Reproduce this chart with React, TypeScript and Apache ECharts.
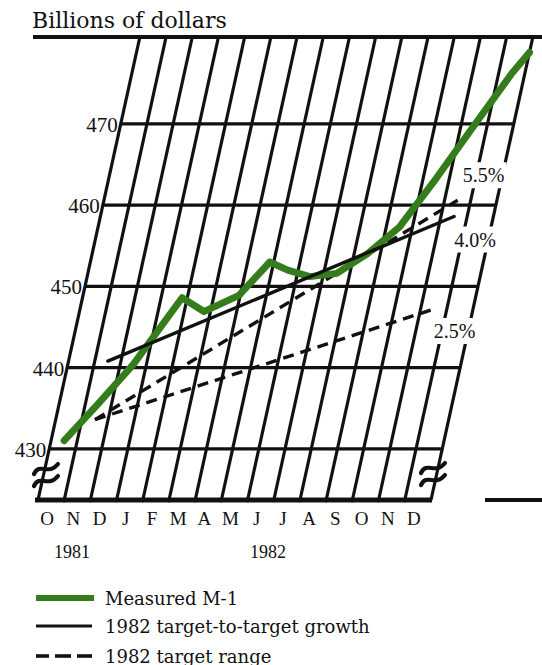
import React, { useEffect, useRef } from 'react';
import * as echarts from 'echarts';

// ---- data ----
const months = ['O', 'N', 'D', 'J', 'F', 'M', 'A', 'M', 'J', 'J', 'A', 'S', 'O', 'N', 'D'];
const years = ['1981', '1982'];
const yTicks = [430, 440, 450, 460, 470];
const slantLines = [0, 1, 2, 3, 4, 5, 6, 7, 8, 9, 10, 11, 12, 13, 14, 15];
const m1Pos = [0.5, 1.5, 2.5, 3.8, 4.75, 5.95, 6.85, 7.6, 8.5, 9.5, 10.5, 11.5, 12.5, 13.5, 14.5, 15];
const m1Values = [431.0, 435.6, 440.4, 448.6, 446.9, 448.9, 453.0, 452.0, 451.2, 451.6, 454.0, 457.3, 463.3, 469.8, 476.2, 478.8];
const targetPos = [1.5, 13.5];
const growthValues = [440.8, 458.6];
const rangeHighValues = [433.6, 460.6];
const rangeLowValues = [433.6, 447.2];
const pctLabels = ['5.5%', '4.0%', '2.5%'];
const legendLabels = ['Measured M-1', '1982 target-to-target growth', '1982 target range'];

const Y_MIN = 423.7;
const Y_MAX = 480.7;
const X_MAX = 15;
const SHEAR = 0.22;
const GREEN = '#357d1c';
const INK = '#111';
const SERIF = '"Liberation Serif", serif';
const SERIF2 = '"DejaVu Serif", serif';

function makeSk(api: any) {
  const y0 = api.coord([0, Y_MIN])[1];
  return (m: number, v: number, dy = 0, dx = 0) => {
    const p = api.coord([m, v]);
    const y = p[1] + dy;
    return [p[0] + (y0 - y) * SHEAR + dx, y];
  };
}

function polyRender(pos: number[], vals: number[], style: any) {
  return (params: any, api: any) => {
    if (params.dataIndex !== 0) return null;
    const sk = makeSk(api);
    const pts = pos.map((m, i) => sk(m, vals[i]));
    return { type: 'polyline', shape: { points: pts }, style };
  };
}

function txt(id: string, text: string, x: number, y: number, font: string, align = 'left') {
  return {
    id,
    type: 'text',
    x,
    y,
    style: { text, font, fill: INK, align, textAlign: align, verticalAlign: 'middle', textVerticalAlign: 'middle' },
  };
}

function bar(id: string, x1: number, x2: number, y: number, fill: string, h: number) {
  return {
    id,
    type: 'rect',
    z: 10,
    shape: { x: x1, y: y - h / 2, width: x2 - x1, height: h },
    style: { fill },
  };
}

function breakMark(id: string, cx: number, cy: number) {
  const one = (k: string, dy: number) => ({
    id: id + k,
    type: 'bezierCurve',
    z: 10,
    shape: {
      x1: cx - 12, y1: cy + dy + 5,
      cpx1: cx - 6, cpy1: cy + dy - 7,
      cpx2: cx + 2, cpy2: cy + dy + 7,
      x2: cx + 12, y2: cy + dy - 5,
    },
    style: { stroke: INK, lineWidth: 4.2, fill: 'none', lineCap: 'round' },
  });
  return [one('a', -6), one('b', 6)];
}

export default function App() {
  const ref = useRef<HTMLDivElement>(null);
  useEffect(() => {
    if (!ref.current) return;
    const chart = echarts.init(ref.current, undefined, { renderer: 'svg' });
    const pctAnchors = [
      { pos: targetPos[1], val: rangeHighValues[1], dx: 26, dy: -25 },
      { pos: targetPos[1], val: growthValues[1], dx: 21, dy: 23 },
      { pos: targetPos[1], val: rangeLowValues[1], dx: 21, dy: 22 },
    ];
    const option: any = {
      animation: false,
      grid: { left: 38, top: 37, width: 393, height: 463 },
      xAxis: { type: 'value', min: 0, max: X_MAX, show: false },
      yAxis: { type: 'value', min: Y_MIN, max: Y_MAX, show: false },
      series: [
        {
          type: 'custom', silent: true, z: 1,
          data: slantLines.map((k) => [k, Y_MIN]),
          renderItem: (params: any, api: any) => {
            const sk = makeSk(api);
            const k = api.value(0);
            const a = sk(k, Y_MIN);
            const b = sk(k, Y_MAX);
            const children: any[] = [
              { type: 'line', shape: { x1: a[0], y1: a[1], x2: b[0], y2: b[1] }, style: { stroke: INK, lineWidth: 3.2 } },
            ];
            // bottom frame piece under this cell
            const left = k === 0 ? a[0] - 3 : a[0] - 1;
            const right = k < X_MAX ? sk(k + 1, Y_MIN)[0] + 1 : a[0] + 1;
            children.push({
              type: 'polygon',
              shape: { points: [[left, a[1] - 2.3], [right, a[1] - 2.3], [right, a[1] + 2.3], [left, a[1] + 2.3]] },
              style: { fill: INK, stroke: 'none' },
            });
            return { type: 'group', children };
          },
        },
        {
          type: 'custom', silent: true, z: 1,
          data: yTicks.map((v) => [0, v]),
          renderItem: (params: any, api: any) => {
            const sk = makeSk(api);
            const v = api.value(1);
            const a = sk(0, v);
            const b = sk(X_MAX, v);
            return {
              type: 'group',
              children: [
                { type: 'line', shape: { x1: a[0] - 1, y1: a[1], x2: b[0] + 1, y2: b[1] }, style: { stroke: INK, lineWidth: 3.3 } },
                {
                  type: 'text', x: a[0] - 3, y: a[1] + 1,
                  style: { text: String(v), font: `21px ${SERIF}`, fill: INK, align: 'right', textAlign: 'right', verticalAlign: 'middle', textVerticalAlign: 'middle' },
                },
              ],
            };
          },
        },
        {
          type: 'custom', silent: true, z: 1,
          data: months.map((_, i) => [i + 0.5, Y_MIN]),
          renderItem: (params: any, api: any) => {
            const sk = makeSk(api);
            const p = sk(api.value(0), Y_MIN, 18);
            return {
              type: 'text', x: p[0], y: p[1],
              style: { text: months[params.dataIndex], font: `19px ${SERIF}`, fill: INK, align: 'center', textAlign: 'center', verticalAlign: 'middle', textVerticalAlign: 'middle' },
            };
          },
        },
        {
          type: 'custom', silent: true, z: 2,
          data: [[targetPos[0], rangeLowValues[0]], [targetPos[1], rangeLowValues[1]]],
          renderItem: polyRender(targetPos, rangeLowValues, { stroke: INK, lineWidth: 3.4, fill: 'none', lineDash: [11, 7] }),
        },
        {
          type: 'custom', silent: true, z: 2,
          data: [[targetPos[0], rangeHighValues[0]], [targetPos[1], rangeHighValues[1]]],
          renderItem: polyRender(targetPos, rangeHighValues, { stroke: INK, lineWidth: 3.4, fill: 'none', lineDash: [11, 7] }),
        },
        {
          type: 'custom', silent: true, z: 3,
          data: m1Pos.map((m, i) => [m, m1Values[i]]),
          renderItem: polyRender(m1Pos, m1Values, { stroke: GREEN, lineWidth: 7, fill: 'none', lineJoin: 'round', lineCap: 'round' }),
        },
        {
          type: 'custom', silent: true, z: 4,
          data: [[targetPos[0], growthValues[0]], [targetPos[1], growthValues[1]]],
          renderItem: polyRender(targetPos, growthValues, { stroke: INK, lineWidth: 3.4, fill: 'none', lineCap: 'round' }),
        },
        {
          type: 'custom', silent: true, z: 5,
          data: pctAnchors.map((a) => [a.pos, a.val]),
          renderItem: (params: any, api: any) => {
            const a = pctAnchors[params.dataIndex];
            const sk = makeSk(api);
            const p = sk(a.pos, a.val);
            return {
              type: 'text',
              x: p[0] + a.dx,
              y: p[1] + a.dy,
              style: {
                text: pctLabels[params.dataIndex], font: `20px ${SERIF}`, fill: INK,
                align: 'center', textAlign: 'center', verticalAlign: 'middle', textVerticalAlign: 'middle',
                backgroundColor: '#fff', padding: [3, 2],
              },
            };
          },
        },
      ],
      graphic: [
        txt('title', 'Billions of dollars', 32, 20, `22px ${SERIF2}`),
        bar('topLine', 33, 542, 37, INK, 4.2),
        bar('botLineR', 485, 542, 500, INK, 4.2),
        {
          id: 'botLineP', type: 'polygon', z: 50,
          shape: { points: [[35, 497.8], [431, 497.8], [431, 502.2], [35, 502.2]] },
          style: { fill: INK },
        },
        ...breakMark('brkL', 46, 475),
        ...breakMark('brkR', 433, 474),
        txt('y1981', years[0], 72, 552, `18px ${SERIF}`, 'center'),
        txt('y1982', years[1], 268, 552, `18px ${SERIF}`, 'center'),
        bar('legG', 36, 94, 598, GREEN, 6),
        bar('legS', 36, 92, 626, INK, 3.2),
        bar('legD1', 36, 49, 656, INK, 3.6),
        bar('legD2', 55, 71, 656, INK, 3.6),
        bar('legD3', 77, 92, 656, INK, 3.6),
        txt('legT0', legendLabels[0], 105, 598, `18px ${SERIF2}`),
        txt('legT1', legendLabels[1], 105, 626, `18px ${SERIF2}`),
        txt('legT2', legendLabels[2], 105, 656, `18px ${SERIF2}`),
      ],
    };
    chart.setOption(option);
    return () => chart.dispose();
  }, []);
  return <div ref={ref} style={{ width: 542, height: 665, position: 'absolute', left: 0, top: 0 }} />;
}
